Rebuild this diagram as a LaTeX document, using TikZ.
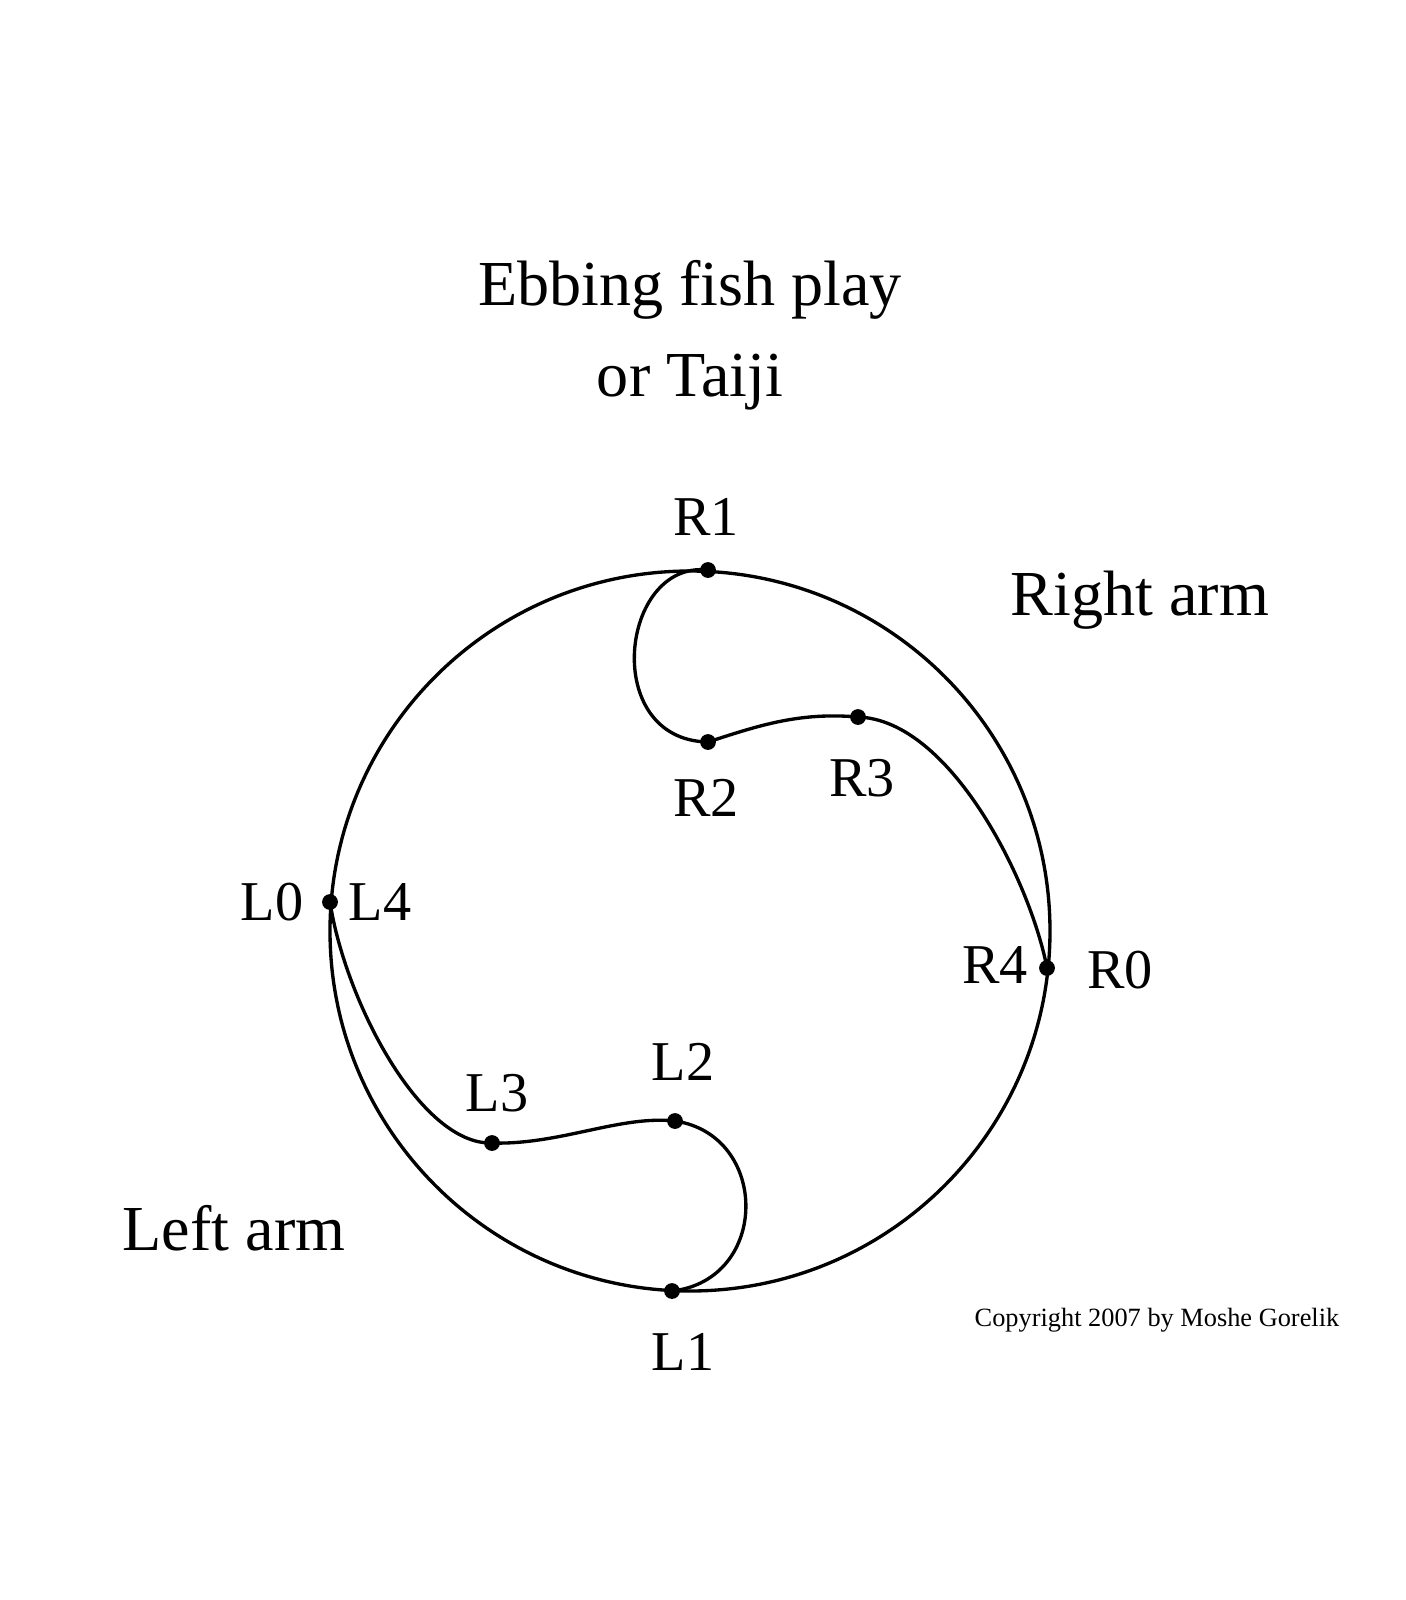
\documentclass[tikz,border=0pt]{standalone}
\usepackage{fontspec}
\setmainfont{Liberation Serif}
\begin{document}
\begin{tikzpicture}[x=0.02cm,y=-0.02cm,
  curve/.style={line width=1.9pt},
  pt/.style={circle,fill=black,inner sep=0pt,minimum size=9pt},
  lab/.style={font=\fontsize{32}{36}\selectfont},
  big/.style={font=\fontsize{36.5}{42}\selectfont}]
\useasboundingbox (0,0) rectangle (1406,1600);
\node[big] (t1) at (690,290) {Ebbing fish play};
\node[big] (t2) at (690,382) {or Taiji};
\node[big] (ra) at (1140,600) {Right arm};
\node[big] (la) at (234,1228) {Left arm};
\node[font=\fontsize{15}{18}\selectfont] (cp) at (1157,1320) {Copyright 2007 by Moshe Gorelik};
\draw[curve] (690,931) circle (360);
\node[pt] (R1) at (708,570) {};
\node[pt] (R2) at (708,742) {};
\node[pt] (R3) at (858,717) {};
\node[pt] (R4) at (1047,968) {};
\node[pt] (L0) at (330,902) {};
\node[pt] (L3) at (492,1143) {};
\node[pt] (L2) at (675,1121) {};
\node[pt] (L1) at (672,1291) {};
\draw[curve] (R1.center) .. controls (620,560) and (600,740) .. (R2.center)
  .. controls (760,725) and (800,712) .. (R3.center)
  .. controls (950,720) and (1030,880) .. (R4.center);
\draw[curve] (L0.center) .. controls (345,1000) and (420,1145) .. (L3.center)
  .. controls (560,1145) and (620,1115) .. (L2.center)
  .. controls (770,1135) and (770,1280) .. (L1.center);
\node[lab] at (706,517) {R1};
\node[lab] at (706,798) {R2};
\node[lab] at (862,778) {R3};
\node[lab] at (995,965) {R4};
\node[lab] at (1120,970) {R0};
\node[lab] at (272,902) {L0};
\node[lab] at (380,902) {L4};
\node[lab] at (497,1093) {L3};
\node[lab] at (683,1062) {L2};
\node[lab] at (683,1352) {L1};
\end{tikzpicture}
\end{document}
